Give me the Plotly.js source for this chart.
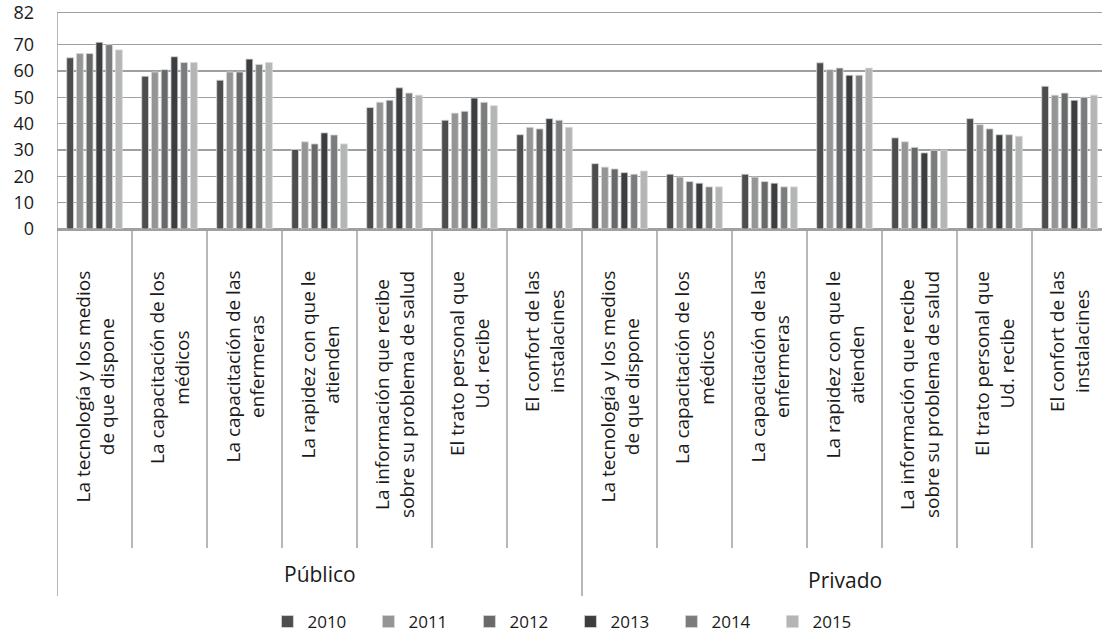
<!DOCTYPE html>
<html>
<head>
<meta charset="utf-8">
<script src="https://cdn.plot.ly/plotly-3.0.1.min.js"></script>
<style>
html,body{margin:0;padding:0;background:#fff;overflow:hidden;}
#chart{width:1107px;height:650px;}
</style>
</head>
<body>
<div id="chart"></div>
<script>
// ---- data ----
const sectors = ['Público', 'Privado'];
const aspects = [
  'La tecnología y los medios<br>de que dispone',
  'La capacitación de los<br>médicos',
  'La capacitación de las<br>enfermeras',
  'La rapidez con que le<br>atienden',
  'La información que recibe<br>sobre su problema de salud',
  'El trato personal que<br>Ud. recibe',
  'El confort de las<br>instalacines'
];
const years = ['2010', '2011', '2012', '2013', '2014', '2015'];
// 7 Público values followed by 7 Privado values
const v2010 = [65.0, 58.0, 56.5, 30.2, 46.1, 41.3, 35.8, 24.8, 20.8, 20.8, 63.1, 34.6, 41.9, 54.2];
const v2011 = [66.6, 59.6, 59.6, 33.1, 48.1, 44.0, 38.6, 23.5, 19.7, 19.7, 60.5, 33.1, 39.6, 50.8];
const v2012 = [66.6, 60.5, 59.6, 32.3, 48.9, 44.7, 38.0, 22.8, 18.0, 18.0, 61.1, 31.0, 38.0, 51.6];
const v2013 = [70.9, 65.4, 64.5, 36.5, 53.6, 49.7, 41.9, 21.4, 17.4, 17.4, 58.4, 28.9, 35.8, 48.9];
const v2014 = [70.0, 63.2, 62.5, 35.7, 51.6, 48.1, 41.3, 20.8, 16.0, 16.0, 58.4, 29.9, 35.8, 50.0];
const v2015 = [68.0, 63.2, 63.2, 32.3, 50.8, 46.8, 38.6, 22.0, 16.0, 16.0, 61.1, 29.9, 35.2, 50.8];
const yTicks = [0, 10, 20, 30, 40, 50, 60, 70, 82];

// ---- styles ----
const colors = ['#4b4d4e', '#959595', '#67696a', '#3b3e40', '#7a7c7d', '#b4b5b5'];
const FONT = 'Open Sans, Noto Sans, sans-serif';
const seriesValues = [v2010, v2011, v2012, v2013, v2014, v2015];

const nA = aspects.length;
const xIdx = [];
sectors.forEach((s, si) => aspects.forEach((a, ai) => xIdx.push(si * nA + ai)));
const nCat = xIdx.length;

const traces = years.map((yr, k) => ({
  type: 'bar',
  name: yr,
  x: xIdx,
  y: seriesValues[k],
  marker: {color: colors[k], line: {color: '#d8d8d8', width: 0.8}},
  hoverinfo: 'x+y+name'
}));

// plot geometry helpers (paper coords below plot)
const H = 650;
const plotTop = 13, plotBottom = 229, plotH = plotBottom - plotTop;
const py = px => -(px - plotBottom) / plotH;

const shapes = [];
// left boundary
shapes.push({type: 'line', xref: 'x', yref: 'paper', x0: -0.5, x1: -0.5, y0: 1, y1: py(596),
  line: {color: '#a0a0a0', width: 1.5}});
for (let i = 1; i < nCat; i++) {
  const outer = (i % nA === 0);
  shapes.push({type: 'line', xref: 'x', yref: 'paper', x0: i - 0.5, x1: i - 0.5,
    y0: 0, y1: outer ? py(596) : py(548), line: {color: '#a0a0a0', width: 1.5}});
}

const annotations = [];
xIdx.forEach((xi, j) => {
  annotations.push({xref: 'x', yref: 'paper', x: xi, y: py(269), text: aspects[j % nA],
    textangle: -90, showarrow: false, xanchor: 'center', yanchor: 'top', align: 'center',
    font: {family: FONT, size: 19, color: '#1a1a1a'}});
});
const sectorY = [574, 580];
sectors.forEach((s, si) => {
  annotations.push({xref: 'x', yref: 'paper', x: si * nA + (nA - 1) / 2, y: py(sectorY[si]), text: s,
    showarrow: false, xanchor: 'center', yanchor: 'middle',
    font: {family: FONT, size: 21, color: '#1a1a1a'}});
});

const layout = {
  width: 1107, height: H,
  margin: {l: 57, r: 0, t: plotTop, b: H - plotBottom},
  paper_bgcolor: '#fff', plot_bgcolor: '#fff',
  barmode: 'group', bargap: 0.22, bargroupgap: 0.3,
  font: {family: FONT, color: '#1a1a1a'},
  xaxis: {range: [-0.5, nCat - 0.5], showticklabels: false, showgrid: false, zeroline: false,
    showline: true, mirror: true, linecolor: '#a0a0a0', linewidth: 1.5, ticks: '', fixedrange: true},
  yaxis: {range: [0, 82.01], tickvals: yTicks, ticktext: yTicks.map(String), showgrid: true,
    gridcolor: '#a0a0a0', gridwidth: 1.5, zeroline: true, zerolinecolor: '#a0a0a0', zerolinewidth: 1.5,
    showline: false, ticks: '', ticklabelstandoff: 22,
    tickfont: {family: FONT, size: 18, color: '#1a1a1a'}, fixedrange: true},
  showlegend: true,
  legend: {orientation: 'h', x: 0.489, xanchor: 'center', y: py(622), yanchor: 'middle',
    font: {family: FONT, size: 17, color: '#1a1a1a'}, entrywidth: 56, traceorder: 'normal',
    itemwidth: 30},
  shapes: shapes,
  annotations: annotations
};

Plotly.newPlot('chart', traces, layout, {displayModeBar: false, staticPlot: true});
</script>
</body>
</html>
